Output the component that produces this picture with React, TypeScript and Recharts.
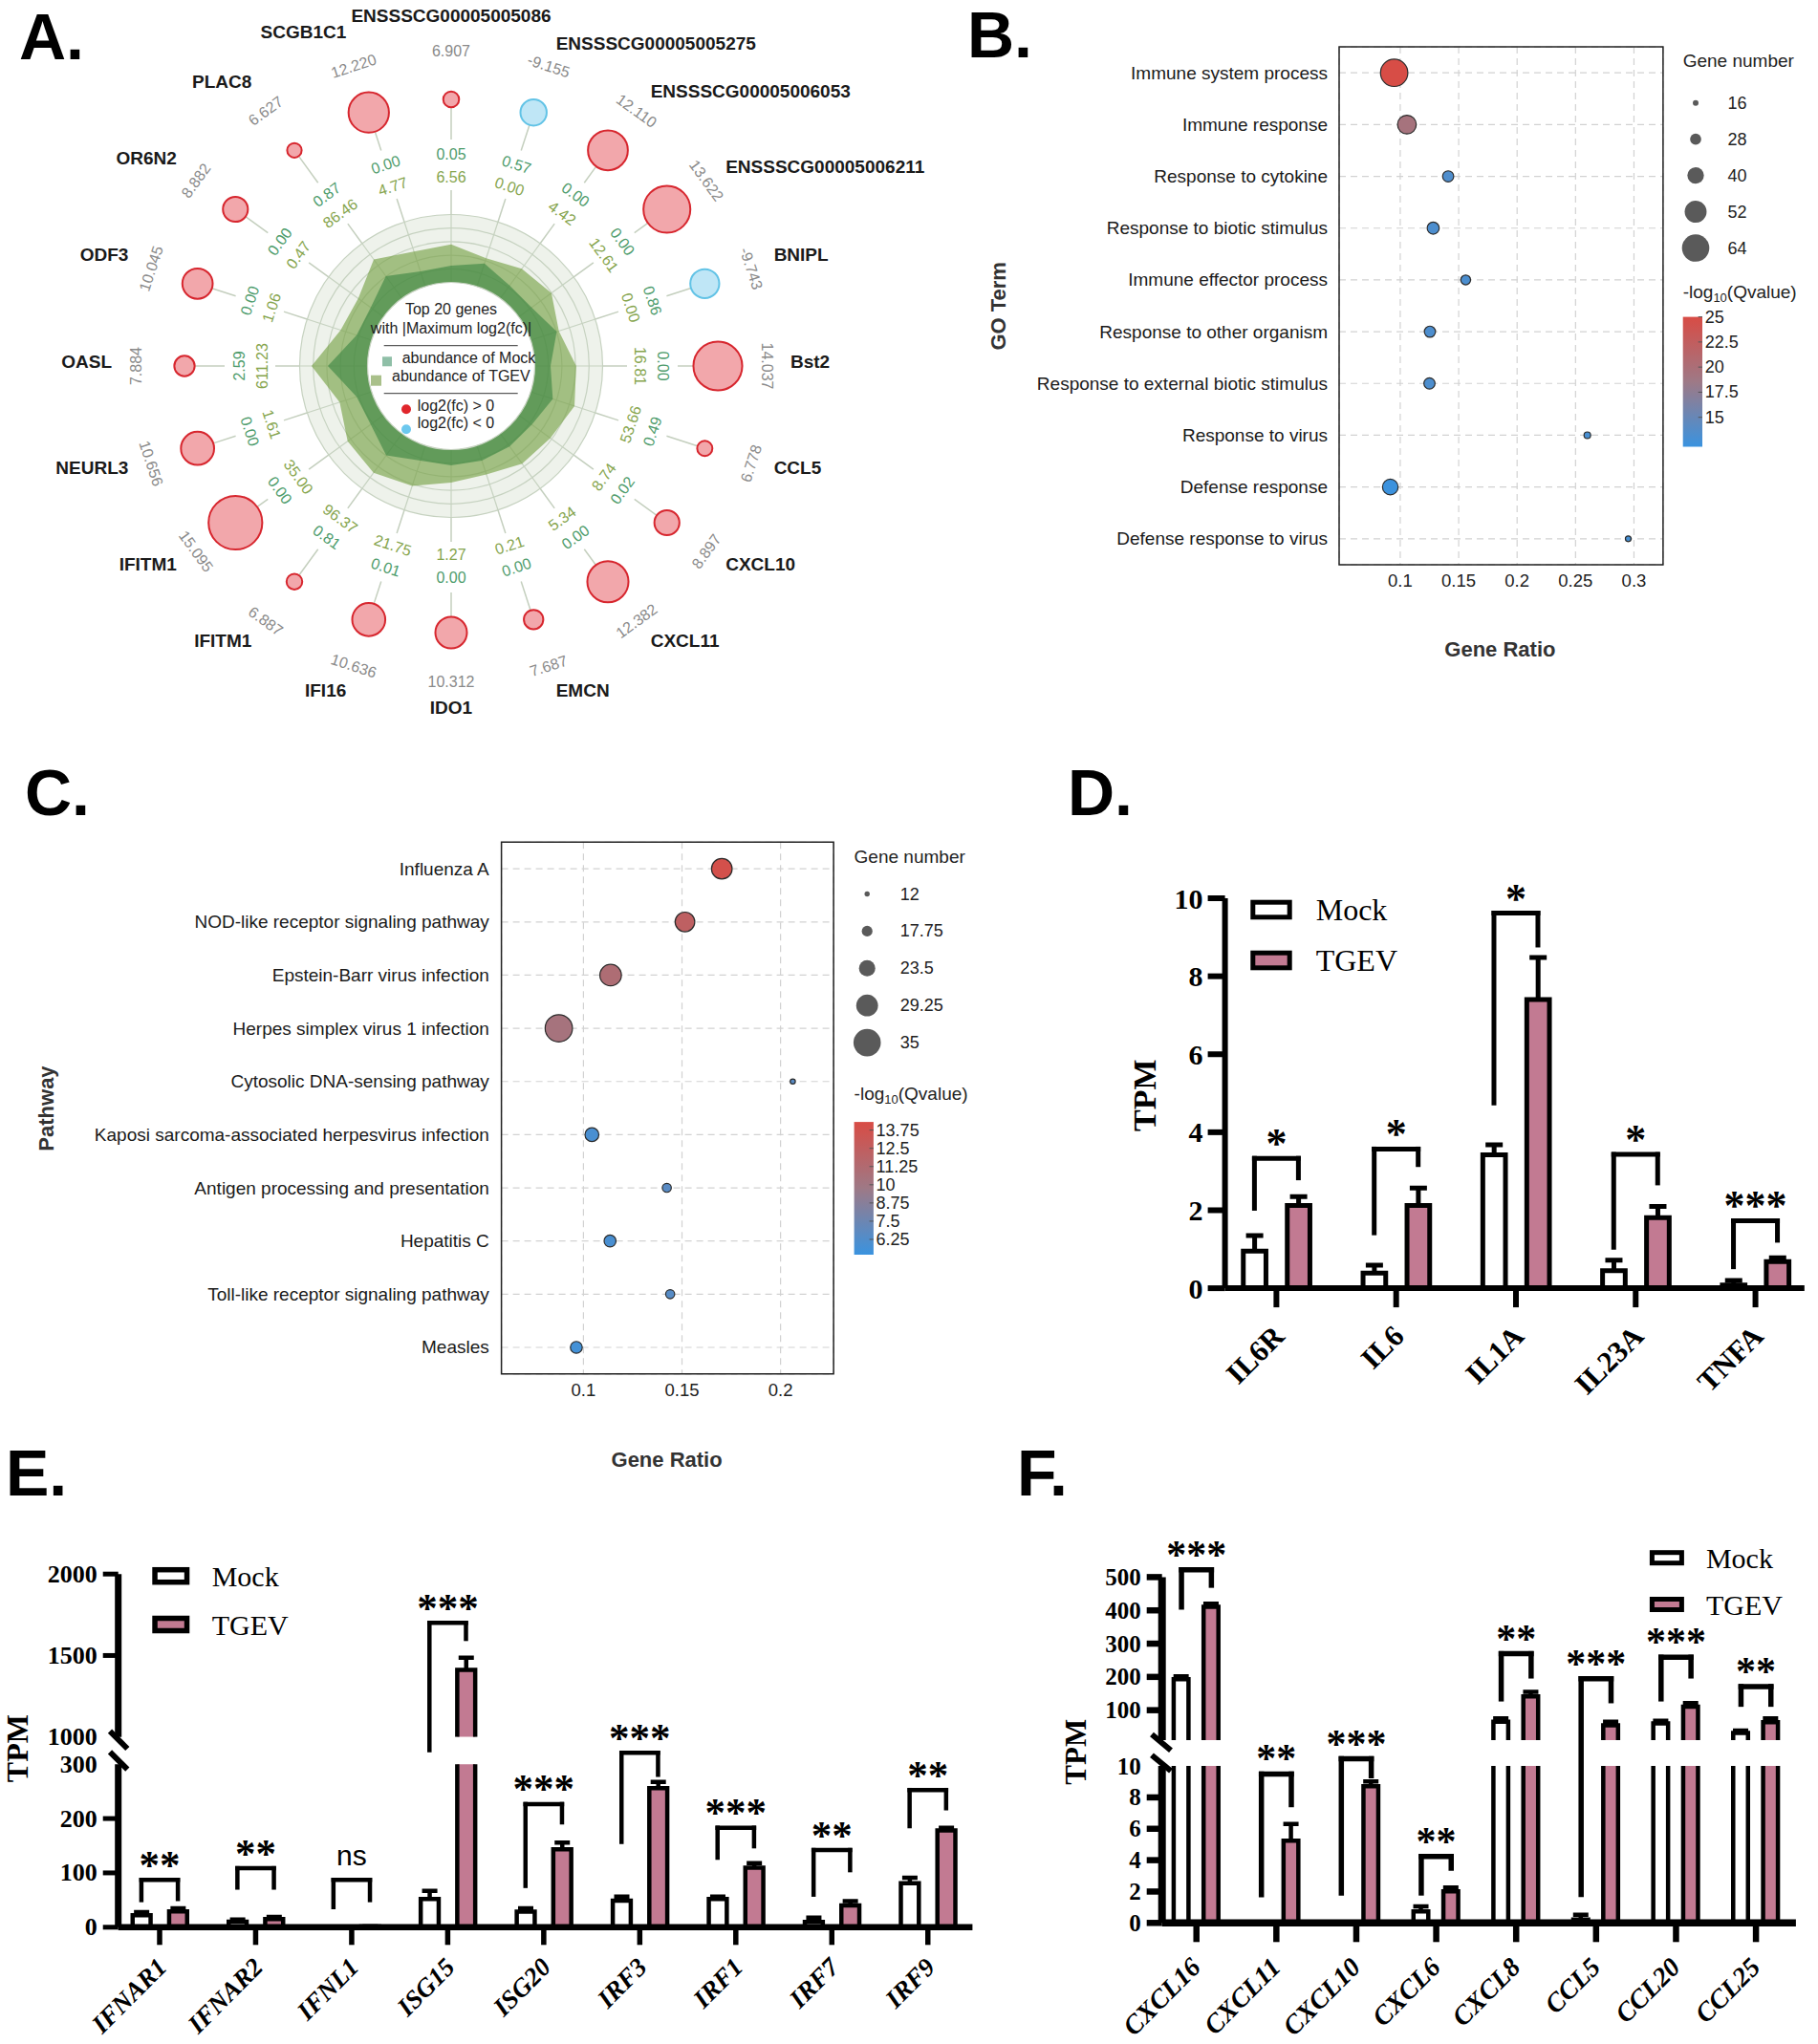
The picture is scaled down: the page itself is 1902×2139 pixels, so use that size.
import React from "react";
import {
  RadarChart,
  Radar,
  PolarGrid,
  PolarAngleAxis,
  PolarRadiusAxis,
  ScatterChart,
  Scatter,
  XAxis,
  YAxis,
  ZAxis,
  CartesianGrid,
  ReferenceArea,
  BarChart,
  Bar,
  ReferenceLine,
} from "recharts";

const SANS = '"Liberation Sans", Arial, Helvetica, sans-serif';
const SERIF = '"Liberation Serif", "Times New Roman", Times, serif';
const PINK = "#c27a92";

// ---------- A: top 20 genes (clockwise from top)
const geneNames = [
  "ENSSSCG00005005086", "ENSSSCG00005005275", "ENSSSCG00005006053", "ENSSSCG00005006211",
  "BNIPL", "Bst2", "CCL5", "CXCL10", "CXCL11", "EMCN", "IDO1", "IFI16", "IFITM1", "IFITM1",
  "NEURL3", "OASL", "ODF3", "OR6N2", "PLAC8", "SCGB1C1",
];
const geneLog2fc = [
  6.907, -9.155, 12.11, 13.622, -9.743, 14.037, 6.778, 8.897, 12.382, 7.687,
  10.312, 10.636, 6.887, 15.095, 10.656, 7.884, 10.045, 8.882, 6.627, 12.22,
];
const mockAbundance = [
  0.05, 0.57, 0.0, 0.0, 0.86, 0.0, 0.49, 0.02, 0.0, 0.0,
  0.0, 0.01, 0.81, 0.0, 0.0, 2.59, 0.0, 0.0, 0.87, 0.0,
];
const tgevAbundance = [
  6.56, 0.0, 4.42, 12.61, 0.0, 16.81, 53.66, 8.74, 5.34, 0.21,
  1.27, 21.75, 96.37, 35.0, 1.61, 611.23, 1.06, 0.47, 86.46, 4.77,
];

// ---------- B: GO terms
const goTerms = [
  "Immune system process", "Immune response", "Response to cytokine", "Response to biotic stimulus",
  "Immune effector process", "Response to other organism", "Response to external biotic stimulus",
  "Response to virus", "Defense response", "Defense response to virus",
];
const goRatio = [0.0948, 0.1057, 0.141, 0.1282, 0.156, 0.1254, 0.125, 0.2601, 0.0915, 0.2951];
const goCount = [64, 45, 28, 30, 25, 28, 28, 18, 38, 16];
const goQ = [24.9, 19.4, 13.4, 13.3, 13.2, 13.3, 13.3, 13.0, 12.2, 12.9];
const goSizeBreaks = [16, 28, 40, 52, 64];
const goQBreaks = [25, 22.5, 20, 17.5, 15];

// ---------- C: KEGG pathways
const keggPathways = [
  "Influenza A", "NOD-like receptor signaling pathway", "Epstein-Barr virus infection",
  "Herpes simplex virus 1 infection", "Cytosolic DNA-sensing pathway",
  "Kaposi sarcoma-associated herpesvirus infection", "Antigen processing and presentation",
  "Hepatitis C", "Toll-like receptor signaling pathway", "Measles",
];
const keggRatio = [0.1702, 0.1515, 0.1138, 0.0875, 0.2062, 0.1043, 0.1423, 0.1135, 0.144, 0.0964];
const keggCount = [28, 27, 29, 35, 12, 21, 16, 19, 16, 19];
const keggQ = [13.9, 12.3, 11.0, 10.4, 6.6, 5.9, 6.6, 5.9, 6.5, 5.6];
const keggSizeBreaks = [12, 17.75, 23.5, 29.25, 35];
const keggQBreaks = [13.75, 12.5, 11.25, 10, 8.75, 7.5, 6.25];

// ---------- D: cytokines
const cytoGenes = ["IL6R", "IL6", "IL1A", "IL23A", "TNFA"];
const cytoMock = [0.95, 0.39, 3.42, 0.45, 0.08];
const cytoMockSem = [0.4, 0.2, 0.26, 0.27, 0.12];
const cytoTgev = [2.12, 2.12, 7.4, 1.81, 0.68];
const cytoTgevSem = [0.23, 0.45, 1.08, 0.29, 0.1];
const cytoSig = ["*", "*", "*", "*", "***"];
const cytoBrTop = [3.33, 3.57, 9.62, 3.43, 1.73];
const cytoBrLeft = [2.05, 1.42, 4.75, 1.05, 0.55];
const cytoBrRight = [2.83, 3.17, 8.8, 2.7, 1.23];

// ---------- E: interferon related
const ifnGenes = ["IFNAR1", "IFNAR2", "IFNL1", "ISG15", "ISG20", "IRF3", "IRF1", "IRF7", "IRF9"];
const ifnMock = [22, 10, 0.3, 52, 28.5, 49, 52, 9.7, 81];
const ifnMockSem = [6, 4, 0.2, 15, 6.5, 7.5, 4.5, 7.8, 10];
const ifnTgev = [29, 15, 1.2, 1411, 143.6, 256, 109.7, 40.3, 178];
const ifnTgevSem = [6, 4, 0.4, 76, 12, 11.5, 8.3, 7.7, 5];
const ifnSig = ["**", "**", "ns", "***", "***", "***", "***", "**", "**"];
const ifnBrSeg = ["low", "low", "low", "up", "low", "low", "low", "low", "low"];
const ifnBrTop = [87, 108.5, 87, 1700, 226.6, 321, 183, 142, 252.5];
const ifnBrLeft = [50, 73, 37, 919, 76, 157, 128, 60, 186];
const ifnBrRight = [52, 73, 50, 1602, 193, 280.5, 149, 105, 219];

// ---------- F: chemokines
const chemGenes = ["CXCL16", "CXCL11", "CXCL10", "CXCL6", "CXCL8", "CCL5", "CCL20", "CCL25"];
const chemMock = [193, 0, 0, 0.74, 65, 0.22, 60, 31.2];
const chemMockSem = [9, 0, 0, 0.32, 10.5, 0.3, 8, 7.4];
const chemTgev = [411, 5.24, 8.71, 2.02, 141.4, 54.5, 110.7, 64];
const chemTgevSem = [8.7, 1.06, 0.3, 0.23, 13.6, 10.5, 10.3, 11.5];
const chemSig = ["***", "**", "***", "**", "**", "***", "***", "**"];
const chemBrSeg = ["up", "low", "low", "low", "up", "up", "up", "up"];
const chemBrTop = [522, 9.49, 10.46, 4.23, 269.6, 194.4, 259, 171];
const chemBrLeft = [410, 1.8, 1.9, 1.91, 134, -454, 134, 118];
const chemBrRight = [475.6, 7.54, 9.38, 3.49, 203, 128.6, 203, 118];

// ---------- helpers
const Q_STOPS = [
  [58, 147, 223],
  [158, 121, 134],
  [216, 76, 69],
];
function qColor(v: number, lo: number, hi: number) {
  const t = Math.max(0, Math.min(1, (v - lo) / (hi - lo)));
  const s = t < 0.5 ? 0 : 1;
  const f = t < 0.5 ? t / 0.5 : (t - 0.5) / 0.5;
  const a = Q_STOPS[s];
  const b = Q_STOPS[s + 1];
  const c = a.map((x, k) => Math.round(x + (b[k] - x) * f));
  return `rgb(${c[0]},${c[1]},${c[2]})`;
}
const linR = (d0: number, d1: number, r0: number, r1: number) => (v: number) =>
  r0 + ((v - d0) / (d1 - d0)) * (r1 - r0);

// ================= Panel A =================
const A_CX = 472;
const A_CY = 383;
const A_INNER = 87.5;
const A_OUTER = 158.5;
const A_LOLLI = 279;
const absFc = geneLog2fc.map((v) => Math.abs(v));
const lolliR = linR(Math.min(...absFc), Math.max(...absFc), 7.6, 28.1);
const radarRows = geneNames.map((_, i) => ({
  id: `g${i}`,
  mock: Math.log10(1 + mockAbundance[i]),
  tgev: Math.log10(1 + tgevAbundance[i]),
}));

function SpokeTick(props: any) {
  const i: number = props.payload?.index ?? props.index;
  const deg: number = props.payload?.coordinate ?? 90 - 18 * i;
  const rad = (deg * Math.PI) / 180;
  const px = (r: number) => A_CX + r * Math.cos(rad);
  const py = (r: number) => A_CY - r * Math.sin(rad);
  const fc = geneLog2fc[i];
  const rc = lolliR(Math.abs(fc));
  const up = fc > 0;
  const norm = ((deg % 360) + 360) % 360;
  const rot = norm <= 180 ? 90 - norm : 270 - norm;
  const cos = Math.cos(rad);
  const sin = Math.sin(rad);
  const anchor = cos > 0.01 ? "start" : cos < -0.01 ? "end" : "middle";
  // long ids in the upper right sit a little lower in the original layout
  const labelDy = geneNames[i].length > 10 && cos > 0.1 ? 0 : -sin * 7 - 5;
  const rt = (r: number, txt: string, color: string, size: number) => (
    <text
      x={px(r)}
      y={py(r)}
      transform={`rotate(${rot} ${px(r)} ${py(r)})`}
      textAnchor="middle"
      dominantBaseline="central"
      fontSize={size}
      fontFamily={SANS}
      fill={color}
    >
      {txt}
    </text>
  );
  return (
    <g>
      <line x1={px(A_OUTER)} y1={py(A_OUTER)} x2={px(184)} y2={py(184)} stroke="#c4cfbe" strokeWidth={1.5} />
      <line x1={px(237)} y1={py(237)} x2={px(A_LOLLI - rc)} y2={py(A_LOLLI - rc)} stroke="#c4cfbe" strokeWidth={1.5} />
      <circle
        cx={px(A_LOLLI)}
        cy={py(A_LOLLI)}
        r={rc}
        fill={up ? "#f2a7ab" : "#bfe6f6"}
        stroke={up ? "#d7262e" : "#62c3e6"}
        strokeWidth={2}
      />
      {rt(330, fc.toFixed(3), "#8a8a8a", 16)}
      {rt(221.5, mockAbundance[i].toFixed(2), "#4e9c6c", 16)}
      {rt(197.5, tgevAbundance[i].toFixed(2), "#86a54e", 16)}
      <text
        x={px(355)}
        y={py(355) + labelDy}
        textAnchor={anchor}
        dominantBaseline="central"
        fontSize={19}
        fontWeight={700}
        fontFamily={SANS}
        fill="#1a1a1a"
      >
        {geneNames[i]}
      </text>
    </g>
  );
}

function PanelA() {
  return (
    <>
      <svg style={{ position: "absolute", left: 0, top: 0 }} width={1000} height={780}>
        <circle cx={A_CX} cy={A_CY} r={A_OUTER} fill="#eef2eb" />
      </svg>
      <div style={{ position: "absolute", left: 0, top: 0 }}>
        <RadarChart
          width={1000}
          height={780}
          data={radarRows}
          cx={A_CX}
          cy={A_CY}
          innerRadius={0}
          outerRadius={A_OUTER}
          margin={{ top: 0, right: 0, bottom: 0, left: 0 }}
        >
          <PolarGrid
            gridType="circle"
            polarRadius={[101.7, 115.9, 130.1, 144.3, 158.5]}
            stroke="#c6d2c0"
            strokeWidth={1.2}
          />
          <PolarAngleAxis dataKey="id" tick={SpokeTick} axisLine={false} tickLine={false} />
          <PolarRadiusAxis domain={[-2.311, 1.211]} allowDataOverflow tick={false} axisLine={false} />
          <PolarRadiusAxis radiusAxisId="t" domain={[-11.8, 4.05]} allowDataOverflow tick={false} axisLine={false} />
          <Radar radiusAxisId="t" dataKey="tgev" fill="#7aa34a" fillOpacity={0.65} stroke="none" isAnimationActive={false} />
          <Radar dataKey="mock" fill="#2e7d3a" fillOpacity={0.55} stroke="none" isAnimationActive={false} />
        </RadarChart>
      </div>
      <svg style={{ position: "absolute", left: 0, top: 0 }} width={1000} height={780} fontFamily={SANS}>
        <circle cx={A_CX} cy={A_CY} r={A_INNER} fill="#fff" stroke="#c6d2c0" strokeWidth={1.2} />
        <text x={A_CX} y={323.3} textAnchor="middle" dominantBaseline="central" fontSize={16} fill="#222">
          Top 20 genes
        </text>
        <text x={A_CX} y={343.3} textAnchor="middle" dominantBaseline="central" fontSize={16} fill="#222">
          with |Maximum log2(fc)|
        </text>
        <line x1={401.7} x2={541.7} y1={361.7} y2={361.7} stroke="#333" strokeWidth={1} />
        <rect x={400} y={373.3} width={10} height={10} fill="#8fbfa7" />
        <text x={420.7} y={374} dominantBaseline="central" fontSize={16} fill="#222">
          abundance of Mock
        </text>
        <rect x={388} y={392.7} width={11} height={11} fill="#a9c08a" />
        <text x={410} y={393.3} dominantBaseline="central" fontSize={16} fill="#222">
          abundance of TGEV
        </text>
        <line x1={401.7} x2={541.7} y1={411.7} y2={411.7} stroke="#333" strokeWidth={1} />
        <circle cx={425} cy={428.3} r={5} fill="#e0262c" />
        <text x={436.7} y={424} dominantBaseline="central" fontSize={16} fill="#222">
          log2(fc) &gt; 0
        </text>
        <circle cx={425} cy={449.3} r={5} fill="#6cc8ee" />
        <text x={436.7} y={442.3} dominantBaseline="central" fontSize={16} fill="#222">
          log2(fc) &lt; 0
        </text>
      </svg>
    </>
  );
}

// ================= Panels B & C (bubble) =================
const catTick = (labels: string[], x: number) => (p: any) => (
  <text x={x} y={p.y} textAnchor="end" dominantBaseline="central" fontSize={19} fontFamily={SANS} fill="#1a1a1a">
    {labels[Math.round(p.payload.value) - 1]}
  </text>
);
const bubbleShape = (lo: number, hi: number, rOf: (n: number) => number) => (p: any) => {
  const r = typeof p.size === "number" ? p.size : rOf(p.payload.count);
  return <circle cx={p.cx} cy={p.cy} r={r} fill={qColor(p.payload.q, lo, hi)} stroke="#2b2b2b" strokeWidth={1.2} />;
};

const goRows = goTerms.map((_, i) => ({ row: i + 1, ratio: goRatio[i], count: goCount[i], q: goQ[i] }));
const keggRows = keggPathways.map((_, i) => ({ row: i + 1, ratio: keggRatio[i], count: keggCount[i], q: keggQ[i] }));
const GO_Q = [12.07, 25];
const KEGG_Q = [5.2, 14.31];
const goR = linR(16, 64, 3, 14.3);
const keggR = linR(12, 35, 2.7, 14.3);

function PanelB() {
  const xMin = 0.0477, xMax = 0.3249;
  return (
    <div style={{ position: "absolute", left: 1000, top: 0 }}>
      <ScatterChart width={902} height={720} margin={{ top: 49.1, right: 162.1, bottom: 89.1, left: 0 }}>
        <CartesianGrid strokeDasharray="7 5" stroke="#d2d2d2" strokeWidth={1.2} />
        <XAxis
          type="number"
          dataKey="ratio"
          domain={[xMin, xMax]}
          allowDataOverflow
          ticks={[0.1, 0.15, 0.2, 0.25, 0.3]}
          tickFormatter={(v: number) => String(v)}
          axisLine={false}
          tickLine={false}
          tickMargin={4}
          height={40}
          tick={{ fontSize: 18.5, fill: "#222", fontFamily: SANS }}
        />
        <YAxis
          type="number"
          dataKey="row"
          domain={[0.5, 10.5]}
          allowDataOverflow
          reversed
          ticks={[1, 2, 3, 4, 5, 6, 7, 8, 9, 10]}
          width={401}
          axisLine={false}
          tickLine={false}
          tick={catTick(goTerms, 389)}
        />
        <ZAxis type="number" dataKey="count" domain={[16, 64]} range={[3, 14.3]} />
        <ReferenceArea x1={xMin} x2={xMax} y1={0.5} y2={10.5} fill="none" stroke="#222" strokeWidth={1.5} ifOverflow="visible" />
        <Scatter data={goRows} shape={bubbleShape(GO_Q[0], GO_Q[1], goR)} isAnimationActive={false} />
      </ScatterChart>
    </div>
  );
}

function PanelC() {
  const xMin = 0.0584, xMax = 0.2269;
  return (
    <div style={{ position: "absolute", left: 0, top: 840 }}>
      <ScatterChart width={1060} height={720} margin={{ top: 41.3, right: 187.9, bottom: 82.2, left: 0 }}>
        <CartesianGrid strokeDasharray="7 5" stroke="#d2d2d2" strokeWidth={1.2} />
        <XAxis
          type="number"
          dataKey="ratio"
          domain={[xMin, xMax]}
          allowDataOverflow
          ticks={[0.1, 0.15, 0.2]}
          tickFormatter={(v: number) => String(v)}
          axisLine={false}
          tickLine={false}
          tickMargin={4}
          height={40}
          tick={{ fontSize: 18.5, fill: "#222", fontFamily: SANS }}
        />
        <YAxis
          type="number"
          dataKey="row"
          domain={[0.5, 10.5]}
          allowDataOverflow
          reversed
          ticks={[1, 2, 3, 4, 5, 6, 7, 8, 9, 10]}
          width={524.6}
          axisLine={false}
          tickLine={false}
          tick={catTick(keggPathways, 511.8)}
        />
        <ZAxis type="number" dataKey="count" domain={[12, 35]} range={[2.7, 14.3]} />
        <ReferenceArea x1={xMin} x2={xMax} y1={0.5} y2={10.5} fill="none" stroke="#222" strokeWidth={1.5} ifOverflow="visible" />
        <Scatter data={keggRows} shape={bubbleShape(KEGG_Q[0], KEGG_Q[1], keggR)} isAnimationActive={false} />
      </ScatterChart>
    </div>
  );
}

function BubbleLegend(props: {
  x: number; titleY: number; itemY0: number; itemStep: number; circleX: number; labelX: number;
  sizes: number[]; rOf: (n: number) => number; qTitleY: number; barY: number; barH: number;
  qDom: number[]; qBreaks: number[]; id: string;
}) {
  const { x, titleY, itemY0, itemStep, circleX, labelX, sizes, rOf, qTitleY, barY, barH, qDom, qBreaks, id } = props;
  const yOfQ = (v: number) => barY + ((qDom[1] - v) / (qDom[1] - qDom[0])) * barH;
  return (
    <g fontFamily={SANS} fill="#222">
      <defs>
        <linearGradient id={id} x1="0" y1="0" x2="0" y2="1">
          <stop offset="0%" stopColor={qColor(qDom[1], qDom[0], qDom[1])} />
          <stop offset="50%" stopColor={qColor((qDom[0] + qDom[1]) / 2, qDom[0], qDom[1])} />
          <stop offset="100%" stopColor={qColor(qDom[0], qDom[0], qDom[1])} />
        </linearGradient>
      </defs>
      <text x={x} y={titleY} dominantBaseline="central" fontSize={19}>Gene number</text>
      {sizes.map((s, k) => (
        <g key={s}>
          <circle cx={circleX} cy={itemY0 + k * itemStep} r={rOf(s)} fill="#5a5a5a" />
          <text x={labelX} y={itemY0 + k * itemStep} dominantBaseline="central" fontSize={18}>{s}</text>
        </g>
      ))}
      <text x={x} y={qTitleY} dominantBaseline="central" fontSize={19}>
        -log<tspan fontSize={13} dy={6}>10</tspan><tspan dy={-6}>(Qvalue)</tspan>
      </text>
      <rect x={x} y={barY} width={20.3} height={barH} fill={`url(#${id})`} />
      {qBreaks.map((v) => (
        <g key={v}>
          <line x1={x + 16} x2={x + 20.3} y1={yOfQ(v)} y2={yOfQ(v)} stroke="#555" strokeWidth={1} />
          <text x={x + 23} y={yOfQ(v)} dominantBaseline="central" fontSize={18}>{v}</text>
        </g>
      ))}
    </g>
  );
}

// ================= Bars (D, E, F) =================
const barShape = (fill: string, sw: number, base: number, key: string, errKey: string, capW: number) => (p: any) => {
  const v = p.payload?.[key];
  if (!(v > base)) return null;
  const { x, y, width, height } = p;
  if (!(height > 0)) return null;
  const k = height / (v - base);
  const e = p.payload[errKey] || 0;
  const cx = x + width / 2;
  const ey = y - e * k;
  return (
    <g>
      <rect x={x} y={y} width={width} height={height} fill={fill} />
      <path d={`M${x},${y + height}V${y}H${x + width}V${y + height}`} fill="none" stroke="#000" strokeWidth={sw} />
      {e > 0 && (
        <path d={`M${cx},${y}V${ey}M${cx - capW / 2},${ey}H${cx + capW / 2}`} fill="none" stroke="#000" strokeWidth={sw} />
      )}
    </g>
  );
};

const yTick = (axisX: number, len: number, fs: number, gap: number, tw: number, noLine: number[] = []) => (p: any) => {
  const v = p.payload.value;
  return (
    <g>
      {!noLine.includes(v) && <line x1={axisX - len} x2={axisX} y1={p.y} y2={p.y} stroke="#000" strokeWidth={tw} />}
      <text x={axisX - len - gap} y={p.y} textAnchor="end" dominantBaseline="central" fontFamily={SERIF} fontWeight={700} fontSize={fs} fill="#000">
        {v}
      </text>
    </g>
  );
};

const xTick = (axisY: number, len: number, fs: number, dx: number, dy: number, italic: boolean, tw: number) => (p: any) => {
  const ax = p.x + dx;
  const ay = axisY + len + dy;
  return (
    <g>
      <line x1={p.x} x2={p.x} y1={axisY} y2={axisY + len} stroke="#000" strokeWidth={tw} />
      <text
        x={ax}
        y={ay}
        transform={`rotate(-45 ${ax} ${ay})`}
        textAnchor="end"
        fontFamily={SERIF}
        fontWeight={700}
        fontStyle={italic ? "italic" : "normal"}
        fontSize={fs}
        fill="#000"
      >
        {p.payload.value}
      </text>
    </g>
  );
};

function sigLabel(text: string, fs: number) {
  return (p: any) => {
    const vb = p.viewBox || {};
    const cx = (vb.x ?? 0) + (vb.width ?? 0) / 2;
    const cy = (vb.y ?? 0) - 23;
    const ns = text === "ns";
    return (
      <text
        x={cx}
        y={ns ? cy + 8 : cy + 0.5 * fs}
        textAnchor="middle"
        fontFamily={ns ? SANS : SERIF}
        fontWeight={ns ? 400 : 700}
        fontSize={ns ? 30 : fs}
        fill="#000"
      >
        {text}
      </text>
    );
  };
}

function brackets(idx: number[], top: number[], left: number[], right: number[], sig: string[], off: number, sw: number, fs: number) {
  return idx.flatMap((i) => [
    <ReferenceLine
      key={`bl${i}`}
      xAxisId="num"
      ifOverflow="visible"
      stroke="#000"
      strokeWidth={sw}
      strokeLinecap="square"
      segment={[{ x: i - off, y: left[i] }, { x: i - off, y: top[i] }]}
    />,
    <ReferenceLine
      key={`bt${i}`}
      xAxisId="num"
      ifOverflow="visible"
      stroke="#000"
      strokeWidth={sw}
      strokeLinecap="square"
      segment={[{ x: i - off, y: top[i] }, { x: i + off, y: top[i] }]}
      label={sigLabel(sig[i], fs)}
    />,
    <ReferenceLine
      key={`br${i}`}
      xAxisId="num"
      ifOverflow="visible"
      stroke="#000"
      strokeWidth={sw}
      strokeLinecap="square"
      segment={[{ x: i + off, y: right[i] }, { x: i + off, y: top[i] }]}
    />,
  ]);
}

const cytoRows = cytoGenes.map((g, i) => ({ gene: g, mock: cytoMock[i], mockErr: cytoMockSem[i], tgev: cytoTgev[i], tgevErr: cytoTgevSem[i] }));
const ifnRows = ifnGenes.map((g, i) => ({ gene: g, mock: ifnMock[i], mockErr: ifnMockSem[i], tgev: ifnTgev[i], tgevErr: ifnTgevSem[i] }));
const chemRows = chemGenes.map((g, i) => ({ gene: g, mock: chemMock[i], mockErr: chemMockSem[i], tgev: chemTgev[i], tgevErr: chemTgevSem[i] }));

function PanelD() {
  const pad = { left: -8.85, right: -11.4 };
  const half = 125.3 / 2;
  const numPad = { left: pad.left + half, right: pad.right + half };
  const off = 23.0 / 125.3;
  const n = cytoGenes.length;
  return (
    <div style={{ position: "absolute", left: 1100, top: 840 }}>
      <BarChart width={802} height={640} data={cytoRows} margin={{ top: 100, right: 14.2, bottom: 21.9, left: 0 }} barSize={23.7} barGap={22.3}>
        <XAxis
          xAxisId="cat"
          dataKey="gene"
          padding={pad}
          interval={0}
          height={110}
          tickLine={false}
          axisLine={{ stroke: "#000", strokeWidth: 6 }}
          tick={xTick(508.1, 20, 31, 10, 32, false, 6)}
        />
        <XAxis xAxisId="num" type="number" domain={[0, n - 1]} allowDataOverflow padding={numPad} hide />
        <YAxis
          domain={[0, 10]}
          allowDataOverflow
          ticks={[0, 2, 4, 6, 8, 10]}
          width={181.6}
          tickLine={false}
          axisLine={{ stroke: "#000", strokeWidth: 6 }}
          tick={yTick(181.6, 18, 30, 5, 6)}
        />
        <Bar xAxisId="cat" dataKey="mock" fill="#fff" shape={barShape("#fff", 5, 0, "mock", "mockErr", 18)} isAnimationActive={false} />
        <Bar xAxisId="cat" dataKey="tgev" fill={PINK} shape={barShape(PINK, 5, 0, "tgev", "tgevErr", 18)} isAnimationActive={false} />
        {brackets(cytoGenes.map((_, i) => i), cytoBrTop, cytoBrLeft, cytoBrRight, cytoSig, off, 5, 44)}
      </BarChart>
    </div>
  );
}

function PanelE() {
  const pad = { left: -6.94, right: -3.57 };
  const half = 100.47 / 2;
  const numPad = { left: pad.left + half, right: pad.right + half };
  const off = 19.1 / 100.47;
  const n = ifnGenes.length;
  const idx = ifnGenes.map((_, i) => i);
  const lowIdx = idx.filter((i) => ifnBrSeg[i] === "low");
  const upIdx = idx.filter((i) => ifnBrSeg[i] === "up");
  const common = { width: 1060, height: 579, barSize: 18.8, barGap: 19.4 };
  return (
    <>
      <div style={{ position: "absolute", left: 0, top: 1560 }}>
        <BarChart {...common} data={ifnRows} margin={{ top: 286.2, right: 42.6, bottom: 12.2, left: 0 }}>
          <XAxis
            xAxisId="cat"
            dataKey="gene"
            padding={pad}
            interval={0}
            height={110}
            tickLine={false}
            axisLine={{ stroke: "#000", strokeWidth: 6.5 }}
            tick={xTick(456.8, 18.5, 27, 9, 25, true, 5.5)}
          />
          <XAxis xAxisId="num" type="number" domain={[0, n - 1]} allowDataOverflow padding={numPad} hide />
          <YAxis
            domain={[0, 300]}
            allowDataOverflow
            ticks={[0, 100, 200, 300]}
            width={123.7}
            tickLine={false}
            axisLine={{ stroke: "#000", strokeWidth: 7 }}
            tick={yTick(123.7, 16, 26, 6, 5, [300])}
          />
          <Bar xAxisId="cat" dataKey="mock" fill="#fff" shape={barShape("#fff", 4.5, 0, "mock", "mockErr", 16)} isAnimationActive={false} />
          <Bar xAxisId="cat" dataKey="tgev" fill={PINK} shape={barShape(PINK, 4.5, 0, "tgev", "tgevErr", 16)} isAnimationActive={false} />
          {brackets(lowIdx, ifnBrTop, ifnBrLeft, ifnBrRight, ifnSig, off, 4.5, 43)}
        </BarChart>
      </div>
      <div style={{ position: "absolute", left: 0, top: 1560 }}>
        <BarChart {...common} data={ifnRows} margin={{ top: 87.2, right: 42.6, bottom: 321.3, left: 0 }}>
          <XAxis xAxisId="cat" dataKey="gene" padding={pad} hide />
          <XAxis xAxisId="num" type="number" domain={[0, n - 1]} allowDataOverflow padding={numPad} hide />
          <YAxis
            domain={[1000, 2000]}
            allowDataOverflow
            ticks={[1000, 1500, 2000]}
            width={123.7}
            tickLine={false}
            axisLine={{ stroke: "#000", strokeWidth: 7 }}
            tick={yTick(123.7, 16, 26, 6, 5, [1000])}
          />
          <Bar xAxisId="cat" dataKey="mock" fill="#fff" shape={barShape("#fff", 4.5, 1000, "mock", "mockErr", 16)} isAnimationActive={false} />
          <Bar xAxisId="cat" dataKey="tgev" fill={PINK} shape={barShape(PINK, 4.5, 1000, "tgev", "tgevErr", 16)} isAnimationActive={false} />
          {brackets(upIdx, ifnBrTop, ifnBrLeft, ifnBrRight, ifnSig, off, 4.5, 43)}
        </BarChart>
      </div>
    </>
  );
}

function PanelF() {
  const pad = { left: -5.8, right: 0 };
  const half = 83.62 / 2;
  const numPad = { left: pad.left + half, right: pad.right + half };
  const off = 15.65 / 83.62;
  const n = chemGenes.length;
  const idx = chemGenes.map((_, i) => i);
  const lowIdx = idx.filter((i) => chemBrSeg[i] === "low");
  const upIdx = idx.filter((i) => chemBrSeg[i] === "up");
  const common = { width: 842, height: 579, barSize: 15.5, barGap: 15.8 };
  return (
    <>
      <div style={{ position: "absolute", left: 1060, top: 1560 }}>
        <BarChart {...common} data={chemRows} margin={{ top: 288.1, right: 23.1, bottom: 16.7, left: 0 }}>
          <XAxis
            xAxisId="cat"
            dataKey="gene"
            padding={pad}
            interval={0}
            height={110}
            tickLine={false}
            axisLine={{ stroke: "#000", strokeWidth: 7.5 }}
            tick={xTick(452.3, 20, 28, 6, 28, true, 6.5)}
          />
          <XAxis xAxisId="num" type="number" domain={[0, n - 1]} allowDataOverflow padding={numPad} hide />
          <YAxis
            domain={[0, 10]}
            allowDataOverflow
            ticks={[0, 2, 4, 6, 8, 10]}
            width={155.7}
            tickLine={false}
            axisLine={{ stroke: "#000", strokeWidth: 8 }}
            tick={yTick(155.7, 16, 25, 6, 6.5, [10])}
          />
          <Bar xAxisId="cat" dataKey="mock" fill="#fff" shape={barShape("#fff", 4.5, 0, "mock", "mockErr", 16)} isAnimationActive={false} />
          <Bar xAxisId="cat" dataKey="tgev" fill={PINK} shape={barShape(PINK, 4.5, 0, "tgev", "tgevErr", 16)} isAnimationActive={false} />
          {brackets(lowIdx, chemBrTop, chemBrLeft, chemBrRight, chemSig, off, 5.5, 42)}
        </BarChart>
      </div>
      <div style={{ position: "absolute", left: 1060, top: 1560 }}>
        <BarChart {...common} data={chemRows} margin={{ top: 90.4, right: 23.1, bottom: 318, left: 0 }}>
          <XAxis xAxisId="cat" dataKey="gene" padding={pad} hide />
          <XAxis xAxisId="num" type="number" domain={[0, n - 1]} allowDataOverflow padding={numPad} hide />
          <YAxis
            domain={[10, 500]}
            allowDataOverflow
            ticks={[100, 200, 300, 400, 500]}
            width={155.7}
            tickLine={false}
            axisLine={{ stroke: "#000", strokeWidth: 8 }}
            tick={yTick(155.7, 16, 25, 6, 6.5)}
          />
          <Bar xAxisId="cat" dataKey="mock" fill="#fff" shape={barShape("#fff", 4.5, 10, "mock", "mockErr", 16)} isAnimationActive={false} />
          <Bar xAxisId="cat" dataKey="tgev" fill={PINK} shape={barShape(PINK, 4.5, 10, "tgev", "tgevErr", 16)} isAnimationActive={false} />
          {brackets(upIdx, chemBrTop, chemBrLeft, chemBrRight, chemSig, off, 5.5, 42)}
        </BarChart>
      </div>
    </>
  );
}

function GroupLegend({ x, y1, y2, w, h, sw, textX, fs }: { x: number; y1: number; y2: number; w: number; h: number; sw: number; textX: number; fs: number }) {
  return (
    <g fontFamily={SERIF} fontSize={fs} fill="#000">
      <rect x={x + sw / 2} y={y1 - h / 2 + sw / 2} width={w - sw} height={h - sw} fill="#fff" stroke="#000" strokeWidth={sw} />
      <text x={textX} y={y1} dominantBaseline="central">Mock</text>
      <rect x={x + sw / 2} y={y2 - h / 2 + sw / 2} width={w - sw} height={h - sw} fill={PINK} stroke="#000" strokeWidth={sw} />
      <text x={textX} y={y2} dominantBaseline="central">TGEV</text>
    </g>
  );
}

function Overlay() {
  const letter = (t: string, x: number, y: number) => (
    <text x={x} y={y} fontFamily={SANS} fontWeight={700} fontSize={68} fill="#000">{t}</text>
  );
  const tpm = (x: number, y: number, fs: number) => (
    <text x={x} y={y} transform={`rotate(-90 ${x} ${y})`} textAnchor="middle" dominantBaseline="central" fontFamily={SERIF} fontWeight={700} fontSize={fs} fill="#000">
      TPM
    </text>
  );
  return (
    <svg style={{ position: "absolute", left: 0, top: 0, pointerEvents: "none" }} width={1902} height={2139}>
      {letter("A.", 20, 62)}
      {letter("B.", 1012, 60)}
      {letter("C.", 26, 853)}
      {letter("D.", 1117, 853)}
      {letter("E.", 6, 1565)}
      {letter("F.", 1064, 1565)}

      <text x={1569.4} y={679.1} textAnchor="middle" dominantBaseline="central" fontFamily={SANS} fontWeight={700} fontSize={22} fill="#333">Gene Ratio</text>
      <text x={1044.5} y={320.3} transform="rotate(-90 1044.5 320.3)" textAnchor="middle" dominantBaseline="central" fontFamily={SANS} fontWeight={700} fontSize={22} fill="#333">GO Term</text>
      <text x={697.6} y={1527.3} textAnchor="middle" dominantBaseline="central" fontFamily={SANS} fontWeight={700} fontSize={22} fill="#333">Gene Ratio</text>
      <text x={48.6} y={1160} transform="rotate(-90 48.6 1160)" textAnchor="middle" dominantBaseline="central" fontFamily={SANS} fontWeight={700} fontSize={22} fill="#333">Pathway</text>

      <BubbleLegend
        id="gradB" x={1760.7} titleY={63.3} itemY0={107.7} itemStep={37.96} circleX={1774} labelX={1807.6}
        sizes={goSizeBreaks} rOf={goR} qTitleY={305} barY={331.6} barH={135.9} qDom={GO_Q} qBreaks={goQBreaks}
      />
      <BubbleLegend
        id="gradC" x={893.6} titleY={896.3} itemY0={935.5} itemStep={38.9} circleX={907.2} labelX={941.7}
        sizes={keggSizeBreaks} rOf={keggR} qTitleY={1144} barY={1174.1} barH={138.9} qDom={KEGG_Q} qBreaks={keggQBreaks}
      />

      {tpm(1197.2, 1146.1, 34)}
      {tpm(18.5, 1829.6, 32)}
      {tpm(1125.5, 1833.2, 31)}

      <GroupLegend x={1308.3} y1={952} y2={1005} w={43.4} h={20.6} sw={5} textX={1376.7} fs={32} />
      <GroupLegend x={159.3} y1={1649.2} y2={1700} w={39} h={18.5} sw={5.5} textX={221.7} fs={30} />
      <GroupLegend x={1725.9} y1={1630.2} y2={1679} w={36} h={16} sw={5} textX={1784.9} fs={30} />

      <g stroke="#000" strokeWidth={6}>
        <line x1={115} y1={1811.7} x2={133.3} y2={1830} />
        <line x1={115} y1={1833.3} x2={133.3} y2={1851.7} />
        <line x1={1205} y1={1815} x2={1225} y2={1831.7} />
        <line x1={1205} y1={1836.7} x2={1225} y2={1853.3} />
      </g>
    </svg>
  );
}

export default function App() {
  return (
    <div
      style={{
        position: "absolute",
        left: 0,
        top: 0,
        width: 1902,
        height: 2139,
        background: "#fff",
        overflow: "hidden",
        fontFamily: SANS,
      }}
    >
      <PanelA />
      <PanelB />
      <PanelC />
      <PanelD />
      <PanelE />
      <PanelF />
      <Overlay />
    </div>
  );
}
